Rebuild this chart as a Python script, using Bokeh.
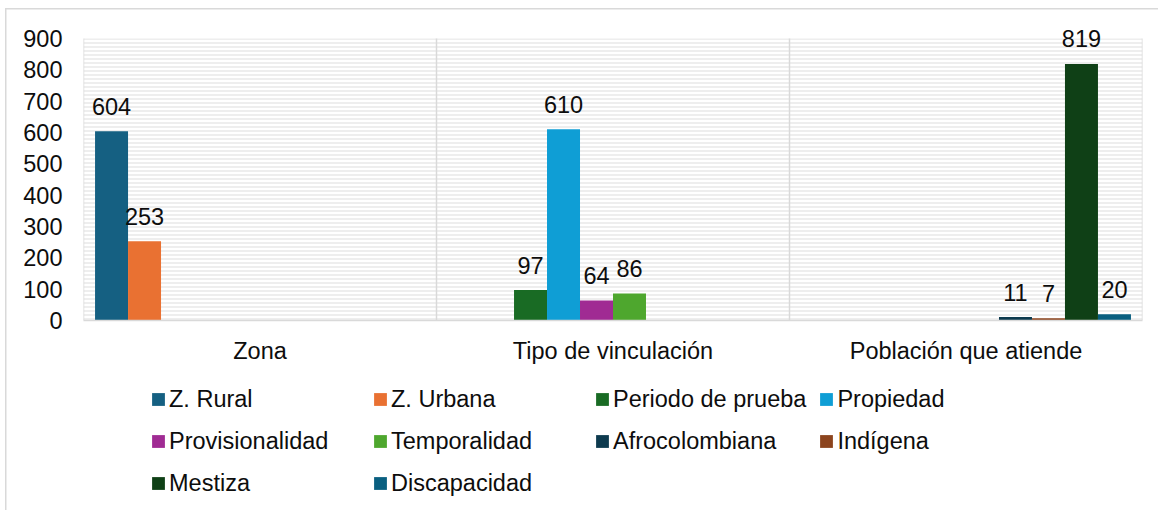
from bokeh.plotting import figure
from bokeh.layouts import column
from bokeh.models import (Range1d, FixedTicker, BoxAnnotation,
                          ColumnDataSource, Legend, LegendItem)
from bokeh.core.properties import value
from bokeh.embed import file_html
from bokeh.resources import INLINE

# ---- data ----
categories = ["Zona", "Tipo de vinculación", "Población que atiende"]
series = ["Z. Rural", "Z. Urbana", "Periodo de prueba", "Propiedad",
          "Provisionalidad", "Temporalidad", "Afrocolombiana", "Indígena",
          "Mestiza", "Discapacidad"]
series_category = [0, 0, 1, 1, 1, 1, 2, 2, 2, 2]
values = [604, 253, 97, 610, 64, 86, 11, 7, 819, 20]
colors = ["#156082", "#E97132", "#196B24", "#0F9ED5", "#A02B93", "#4EA72E",
          "#0D3A4E", "#8C441E", "#0F4016", "#095F80"]
y_ticks = [0, 100, 200, 300, 400, 500, 600, 700, 800, 900]

FONT = "Liberation Sans"
FS = "23.5px"
TXT = "#0d0d0d"
GRID = "#d9d9d9"

W = 1158
H_MAIN = 375
H_LEG = 510 - H_MAIN

# pixel layout of the plot area
AX_TOP_PX = 38      # where the top tick (900) sits
FRAME_TOP_PX = 16   # frame extends above it so top data labels are not clipped
AX_BOTTOM_PX = 320
y_max = y_ticks[-1]
y_end = y_max * (AX_BOTTOM_PX - FRAME_TOP_PX) / (AX_BOTTOM_PX - AX_TOP_PX)

n = len(series)
gap = 0.7
bw = 1.0 / (n + gap)

main_styles = {
    "background-color": "white",
    "background-image": "linear-gradient(#d9d9d9,#d9d9d9), linear-gradient(#d9d9d9,#d9d9d9)",
    "background-size": "1.5px 100%, 100% 1.5px",
    "background-position": "5px 8px, 5px 8px",
    "background-repeat": "no-repeat",
}
leg_styles = {
    "background-color": "white",
    "background-image": "linear-gradient(#d9d9d9,#d9d9d9)",
    "background-size": "1.5px 100%",
    "background-position": "5px 0px",
    "background-repeat": "no-repeat",
}

p = figure(width=W, height=H_MAIN, output_backend="svg", toolbar_location=None,
           x_range=Range1d(0, len(categories)), y_range=Range1d(0, y_end),
           min_border_left=83, min_border_right=16, min_border_top=FRAME_TOP_PX,
           min_border_bottom=H_MAIN - AX_BOTTOM_PX, outline_line_color=None,
           background_fill_alpha=0, border_fill_alpha=0,
           styles=main_styles)
p.xgrid.visible = False
p.ygrid.visible = False

# striped plot-area fill
p.add_layout(BoxAnnotation(left=0, right=len(categories), bottom=0, top=y_max,
                           fill_alpha=0, line_alpha=0,
                           hatch_pattern="horizontal_line",
                           hatch_color="#eeeeee", hatch_scale=4, hatch_weight=2,
                           level="underlay"))
# category separators
bounds = list(range(len(categories) + 1))
p.segment(x0=bounds, x1=bounds, y0=[0] * len(bounds), y1=[y_max] * len(bounds),
          line_color=GRID, line_width=1.5)

xs = [series_category[i] + (gap / 2 + i + 0.5) * bw for i in range(n)]
for i in range(n):
    p.vbar(x=[xs[i]], top=[values[i]], width=bw, fill_color=colors[i],
           line_color=None)

src = ColumnDataSource(dict(x=xs, y=values, t=[str(v) for v in values]))
p.text(x="x", y="y", text="t", source=src, text_align="center",
       text_baseline="alphabetic", y_offset=-25, text_font=value(FONT),
       text_font_size=FS, text_color=TXT)

# axes
p.xaxis.ticker = FixedTicker(ticks=[i + 0.5 for i in range(len(categories))])
p.xaxis.major_label_overrides = {i + 0.5: c for i, c in enumerate(categories)}
p.xaxis.major_tick_line_color = None
p.xaxis.minor_tick_line_color = None
p.xaxis.axis_line_color = GRID
p.xaxis.axis_line_width = 1.5
p.xaxis.major_label_standoff = 11
p.xaxis.major_label_text_font = FONT
p.xaxis.major_label_text_font_size = FS
p.xaxis.major_label_text_color = TXT

p.yaxis.ticker = FixedTicker(ticks=y_ticks)
p.yaxis.major_tick_line_color = None
p.yaxis.minor_tick_line_color = None
p.yaxis.axis_line_color = None
p.yaxis.major_label_standoff = 15
p.yaxis.major_label_text_font = FONT
p.yaxis.major_label_text_font_size = FS
p.yaxis.major_label_text_color = TXT

# ---- legend strip (separate figure below the chart) ----
q = figure(width=W, height=H_LEG, output_backend="svg", toolbar_location=None,
           x_range=Range1d(0, len(categories)), y_range=Range1d(0, y_end),
           min_border_left=0, min_border_right=0, min_border_top=0,
           min_border_bottom=0, outline_line_color=None,
           background_fill_alpha=0, border_fill_alpha=0, styles=leg_styles)
q.axis.visible = False
q.grid.visible = False

items = []
for i in range(n):
    # zero-width swatch renderers: only their colours are used by the legend
    r = q.vbar(x=[xs[i]], top=[values[i]], width=0, fill_color=colors[i],
               line_color=None)
    items.append(LegendItem(label=series[i], renderers=[r]))

LABEL_H = 30
SPACING = 12
LEG_H = 3 * LABEL_H + 2 * SPACING
leg_top = 384 - H_MAIN
lg = Legend(items=items, orientation="horizontal", ncols=4,
            location=(150 - 83, H_LEG - leg_top - LEG_H), padding=0, margin=0,
            border_line_color=None, background_fill_alpha=0,
            glyph_width=16, glyph_height=16, label_standoff=3,
            label_width=191, label_height=LABEL_H, spacing=SPACING,
            label_text_font=FONT, label_text_font_size=FS,
            label_text_color=TXT)
q.add_layout(lg)

layout = column(p, q, spacing=0)
open("out.html", "w").write(file_html(layout, INLINE))
